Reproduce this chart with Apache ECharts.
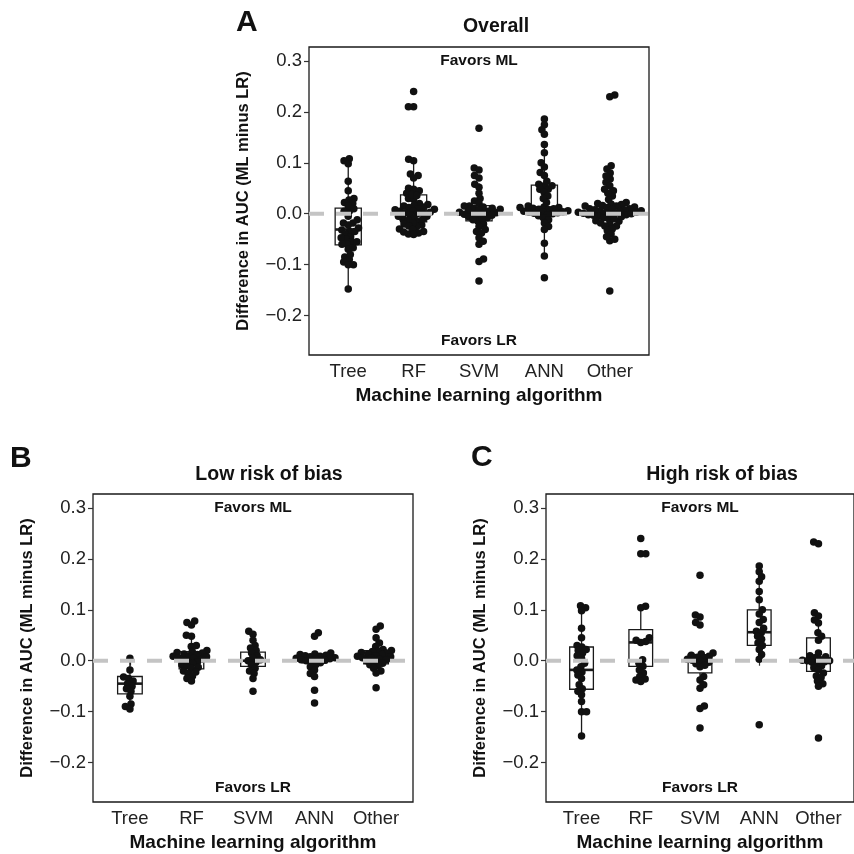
<!DOCTYPE html>
<html>
<head>
<meta charset="utf-8">
<script src="https://cdn.jsdelivr.net/npm/echarts@6/dist/echarts.min.js"></script>
<style>
  html, body { margin: 0; padding: 0; background: #fff; }
  #chart { width: 854px; height: 854px; }
</style>
</head>
<body>
<div id="chart"></div>
<script>
// Algorithm categories shown on every x axis
const categories = ['Tree', 'RF', 'SVM', 'ANN', 'Other'];
const yTicks = [-0.2, -0.1, 0.0, 0.1, 0.2, 0.3];

// AUC differences (ML minus LR), low risk of bias studies
const lowTree  = [0.005, -0.018, -0.032, -0.035, -0.04, -0.045, -0.05, -0.055, -0.06, -0.07, -0.085, -0.09, -0.095];
const lowRF    = [0.078, 0.075, 0.07, 0.05, 0.048, 0.03, 0.028, 0.02, 0.018, 0.016, 0.015, 0.013, 0.012, 0.01, 0.009, 0.008, 0.006, 0.005, 0.003, 0.002, 0.0, -0.002, -0.005, -0.008, -0.01, -0.013, -0.015, -0.02, -0.022, -0.025, -0.03, -0.035, -0.04];
const lowSVM   = [0.058, 0.052, 0.04, 0.03, 0.025, 0.02, 0.015, 0.01, 0.005, 0.002, 0.0, -0.003, -0.008, -0.015, -0.02, -0.025, -0.035, -0.06];
const lowANN   = [0.055, 0.048, 0.015, 0.013, 0.012, 0.011, 0.01, 0.009, 0.008, 0.006, 0.005, 0.004, 0.003, 0.002, 0.001, 0.0, -0.002, -0.004, -0.008, -0.012, -0.018, -0.025, -0.031, -0.058, -0.083];
const lowOther = [0.068, 0.062, 0.045, 0.035, 0.028, 0.022, 0.02, 0.019, 0.018, 0.016, 0.015, 0.013, 0.012, 0.01, 0.009, 0.008, 0.006, 0.005, 0.003, 0.002, 0.0, -0.002, -0.005, -0.008, -0.01, -0.015, -0.02, -0.024, -0.053];

// AUC differences (ML minus LR), high risk of bias studies
const highTree  = [0.108, 0.104, 0.098, 0.064, 0.045, 0.03, 0.027, 0.022, 0.02, 0.015, 0.01, 0.005, -0.005, -0.012, -0.018, -0.022, -0.028, -0.035, -0.047, -0.055, -0.06, -0.067, -0.08, -0.1, -0.1, -0.148];
const highRF    = [0.24, 0.21, 0.21, 0.107, 0.104, 0.045, 0.04, 0.038, 0.036, 0.002, -0.005, -0.011, -0.018, -0.024, -0.031, -0.036, -0.038, -0.041];
const highSVM   = [0.168, 0.09, 0.086, 0.075, 0.07, 0.015, 0.013, 0.011, 0.009, 0.007, 0.005, 0.003, 0.001, -0.001, -0.003, -0.006, -0.009, -0.012, -0.031, -0.038, -0.047, -0.054, -0.089, -0.094, -0.132];
const highANN   = [0.186, 0.175, 0.165, 0.156, 0.136, 0.12, 0.1, 0.092, 0.081, 0.075, 0.064, 0.058, 0.055, 0.048, 0.042, 0.035, 0.03, 0.022, 0.012, 0.003, -0.126];
const highOther = [0.233, 0.23, 0.094, 0.088, 0.08, 0.074, 0.055, 0.048, 0.04, 0.015, 0.01, 0.008, 0.006, 0.003, 0.001, 0.0, 0.0, -0.002, -0.003, -0.006, -0.01, -0.014, -0.018, -0.024, -0.03, -0.033, -0.04, -0.045, -0.05, -0.152];

// Box summaries per category: [lower whisker, Q1, median, Q3, upper whisker]
const overallBox = [
  [-0.148, -0.061, -0.031, 0.011, 0.108],
  [-0.042, -0.016, 0.005, 0.037, 0.107],
  [-0.055, -0.014, -0.001, 0.016, 0.06],
  [-0.084, 0.0, 0.012, 0.056, 0.136],
  [-0.055, -0.008, 0.001, 0.016, 0.05]
];
const lowBox = [
  [-0.095, -0.065, -0.045, -0.031, 0.005],
  [-0.04, -0.016, 0.003, 0.018, 0.05],
  [-0.035, -0.011, 0.0, 0.017, 0.058],
  [-0.025, -0.004, 0.004, 0.01, 0.015],
  [-0.03, -0.006, 0.008, 0.02, 0.05]
];
const highBox = [
  [-0.148, -0.056, -0.018, 0.027, 0.108],
  [-0.041, -0.011, 0.036, 0.061, 0.107],
  [-0.054, -0.024, -0.001, 0.012, 0.015],
  [0.003, 0.03, 0.056, 0.1, 0.186],
  [-0.05, -0.021, 0.0, 0.045, 0.094]
];

// Direction annotations: [x position, y value, text]
const notes = [[3, 0.3, 'Favors ML'], [3, -0.25, 'Favors LR']];

const lowGroups = [lowTree, lowRF, lowSVM, lowANN, lowOther];
const highGroups = [highTree, highRF, highSVM, highANN, highOther];
// Overall = all studies from both risk-of-bias strata
const overallGroups = lowGroups.map((g, i) => g.concat(highGroups[i]));

const FONT = '"Liberation Sans", Arial, Helvetica, sans-serif';
const X_MIN = 0.4, X_MAX = 5.6, Y_MIN = -0.2775, Y_MAX = 0.3275;
const DOT = 7.5;       // marker diameter, px
const SPACING = 5.2;   // minimum centre distance used by the swarm layout, px

const panels = [
  { letter: 'A', title: 'Overall', groups: overallGroups, box: overallBox,
    grid: { left: 309, top: 47, width: 340, height: 308 },
    letterPos: [236, 23], titlePos: [496, 27], yNameGap: 57 },
  { letter: 'B', title: 'Low risk of bias', groups: lowGroups, box: lowBox,
    grid: { left: 93, top: 494, width: 320, height: 308 },
    letterPos: [10, 459], titlePos: [269, 475], yNameGap: 57 },
  { letter: 'C', title: 'High risk of bias', groups: highGroups, box: highBox,
    grid: { left: 546, top: 494, width: 320, height: 308 },
    letterPos: [471, 458], titlePos: [722, 475], yNameGap: 57 }
];

// Beeswarm: place each point at the horizontal offset closest to the centre
// that keeps it SPACING px away from every point already placed.
function swarmOffsets(values, yPx) {
  const order = values.map((v, i) => i).sort((a, b) => values[a] - values[b]);
  const placed = [];
  const out = new Array(values.length).fill(0);
  order.forEach((i, k) => {
    const y = values[i] * yPx;
    const blocks = [];
    placed.forEach(p => {
      const dy = Math.abs(p.y - y);
      if (dy < SPACING) {
        const dx = Math.sqrt(SPACING * SPACING - dy * dy);
        blocks.push([p.x - dx, p.x + dx]);
      }
    });
    const cands = [0];
    blocks.forEach(b => cands.push(b[0], b[1]));
    cands.sort((a, b) => (Math.abs(a) - Math.abs(b)) || (k % 2 ? a - b : b - a));
    let best = 0;
    for (const c of cands) {
      if (blocks.every(b => c <= b[0] + 1e-6 || c >= b[1] - 1e-6)) { best = c; break; }
    }
    out[i] = best;
    placed.push({ x: best, y: y });
  });
  return out;
}

const grids = [], xAxes = [], yAxes = [], series = [], graphics = [];

panels.forEach((p, idx) => {
  grids.push(Object.assign({ show: true, borderColor: '#1a1a1a', borderWidth: 1.3, backgroundColor: '#fff' }, p.grid));
  xAxes.push({
    type: 'value', gridIndex: idx, min: X_MIN, max: X_MAX,
    name: 'Machine learning algorithm', nameLocation: 'middle', nameGap: 31,
    nameTextStyle: { fontFamily: FONT, fontSize: 19, fontWeight: 'bold', color: '#111' },
    axisLine: { show: false }, splitLine: { show: false },
    axisTick: { show: true, length: 5, lineStyle: { color: '#333', width: 1.2 }, customValues: [1, 2, 3, 4, 5] },
    axisLabel: { customValues: [1, 2, 3, 4, 5], margin: 7, fontFamily: FONT, fontSize: 18.5, color: '#222',
      formatter: v => categories[Math.round(v) - 1] || '' }
  });
  yAxes.push({
    type: 'value', gridIndex: idx, min: Y_MIN, max: Y_MAX,
    name: 'Difference in AUC (ML minus LR)', nameLocation: 'middle', nameGap: p.yNameGap,
    nameTextStyle: { fontFamily: FONT, fontSize: 16.5, fontWeight: 'bold', color: '#111' },
    axisLine: { show: false }, splitLine: { show: false },
    axisTick: { show: true, length: 5, lineStyle: { color: '#333', width: 1.2 }, customValues: yTicks },
    axisLabel: { customValues: yTicks, margin: 7, fontFamily: FONT, fontSize: 18.5, color: '#222',
      formatter: v => (v < -1e-9 ? '\u2212' : '') + Math.abs(v).toFixed(1) }
  });

  const xPx = p.grid.width / (X_MAX - X_MIN);
  const yPx = p.grid.height / (Y_MAX - Y_MIN);

  // Box-and-whisker marks
  series.push({
    type: 'custom', xAxisIndex: idx, yAxisIndex: idx, z: 2, silent: true,
    data: p.box.map((b, i) => [i + 1].concat(b)),
    encode: { x: 0, y: [1, 2, 3, 4, 5] },
    renderItem: (params, api) => {
      const x = api.value(0);
      const half = api.size([0.4, 0])[0] / 2;
      const lo = api.coord([x, api.value(1)]);
      const q1 = api.coord([x, api.value(2)]);
      const md = api.coord([x, api.value(3)]);
      const q3 = api.coord([x, api.value(4)]);
      const hi = api.coord([x, api.value(5)]);
      const stroke = { stroke: '#1a1a1a', lineWidth: 1.3 };
      return { type: 'group', children: [
        { type: 'line', shape: { x1: hi[0], y1: hi[1], x2: q3[0], y2: q3[1] }, style: stroke },
        { type: 'line', shape: { x1: q1[0], y1: q1[1], x2: lo[0], y2: lo[1] }, style: stroke },
        { type: 'rect', shape: { x: q3[0] - half, y: q3[1], width: half * 2, height: q1[1] - q3[1] },
          style: { fill: '#fff', stroke: '#1a1a1a', lineWidth: 1.3 } },
        { type: 'line', shape: { x1: md[0] - half, y1: md[1], x2: md[0] + half, y2: md[1] },
          style: { stroke: '#1a1a1a', lineWidth: 2.6 } }
      ] };
    }
  });

  // Individual studies, spread horizontally as a beeswarm
  const pts = [];
  p.groups.forEach((vals, gi) => {
    const offs = swarmOffsets(vals, yPx);
    vals.forEach((v, k) => pts.push([gi + 1 + offs[k] / xPx, v]));
  });
  series.push({
    type: 'scatter', xAxisIndex: idx, yAxisIndex: idx, z: 3, silent: true,
    symbol: 'circle', symbolSize: DOT, data: pts,
    itemStyle: { color: '#111', opacity: 1 }
  });

  // Reference line at zero difference
  series.push({
    type: 'line', xAxisIndex: idx, yAxisIndex: idx, z: 4, silent: true,
    symbol: 'none', data: [[X_MIN, 0], [X_MAX, 0]],
    lineStyle: { color: '#c4c4c4', width: 4, type: [15, 12], cap: 'butt' }
  });

  // Direction annotations drawn as text at data coordinates
  series.push({
    type: 'custom', xAxisIndex: idx, yAxisIndex: idx, z: 5, silent: true,
    data: notes,
    renderItem: (params, api) => {
      const c = api.coord([api.value(0), api.value(1)]);
      return { type: 'text', x: c[0], y: c[1],
        style: { text: notes[params.dataIndex][2], fontFamily: FONT, fontSize: 15.5, fontWeight: 'bold',
          fill: '#111', textAlign: 'center', textVerticalAlign: 'middle' } };
    }
  });

  graphics.push({ type: 'text', x: p.letterPos[0], y: p.letterPos[1],
    style: { text: p.letter, fontFamily: FONT, fontSize: 30, fontWeight: 'bold', fill: '#111',
      textAlign: 'left', textVerticalAlign: 'middle' } });
  graphics.push({ type: 'text', x: p.titlePos[0], y: p.titlePos[1],
    style: { text: p.title, fontFamily: FONT, fontSize: 19.5, fontWeight: 'bold', fill: '#111',
      textAlign: 'center', textVerticalAlign: 'middle' } });
});

const chart = echarts.init(document.getElementById('chart'), null, { renderer: 'canvas' });
chart.setOption({
  animation: false,
  backgroundColor: '#fff',
  grid: grids, xAxis: xAxes, yAxis: yAxes,
  series: series,
  graphic: graphics
});
</script>
</body>
</html>
